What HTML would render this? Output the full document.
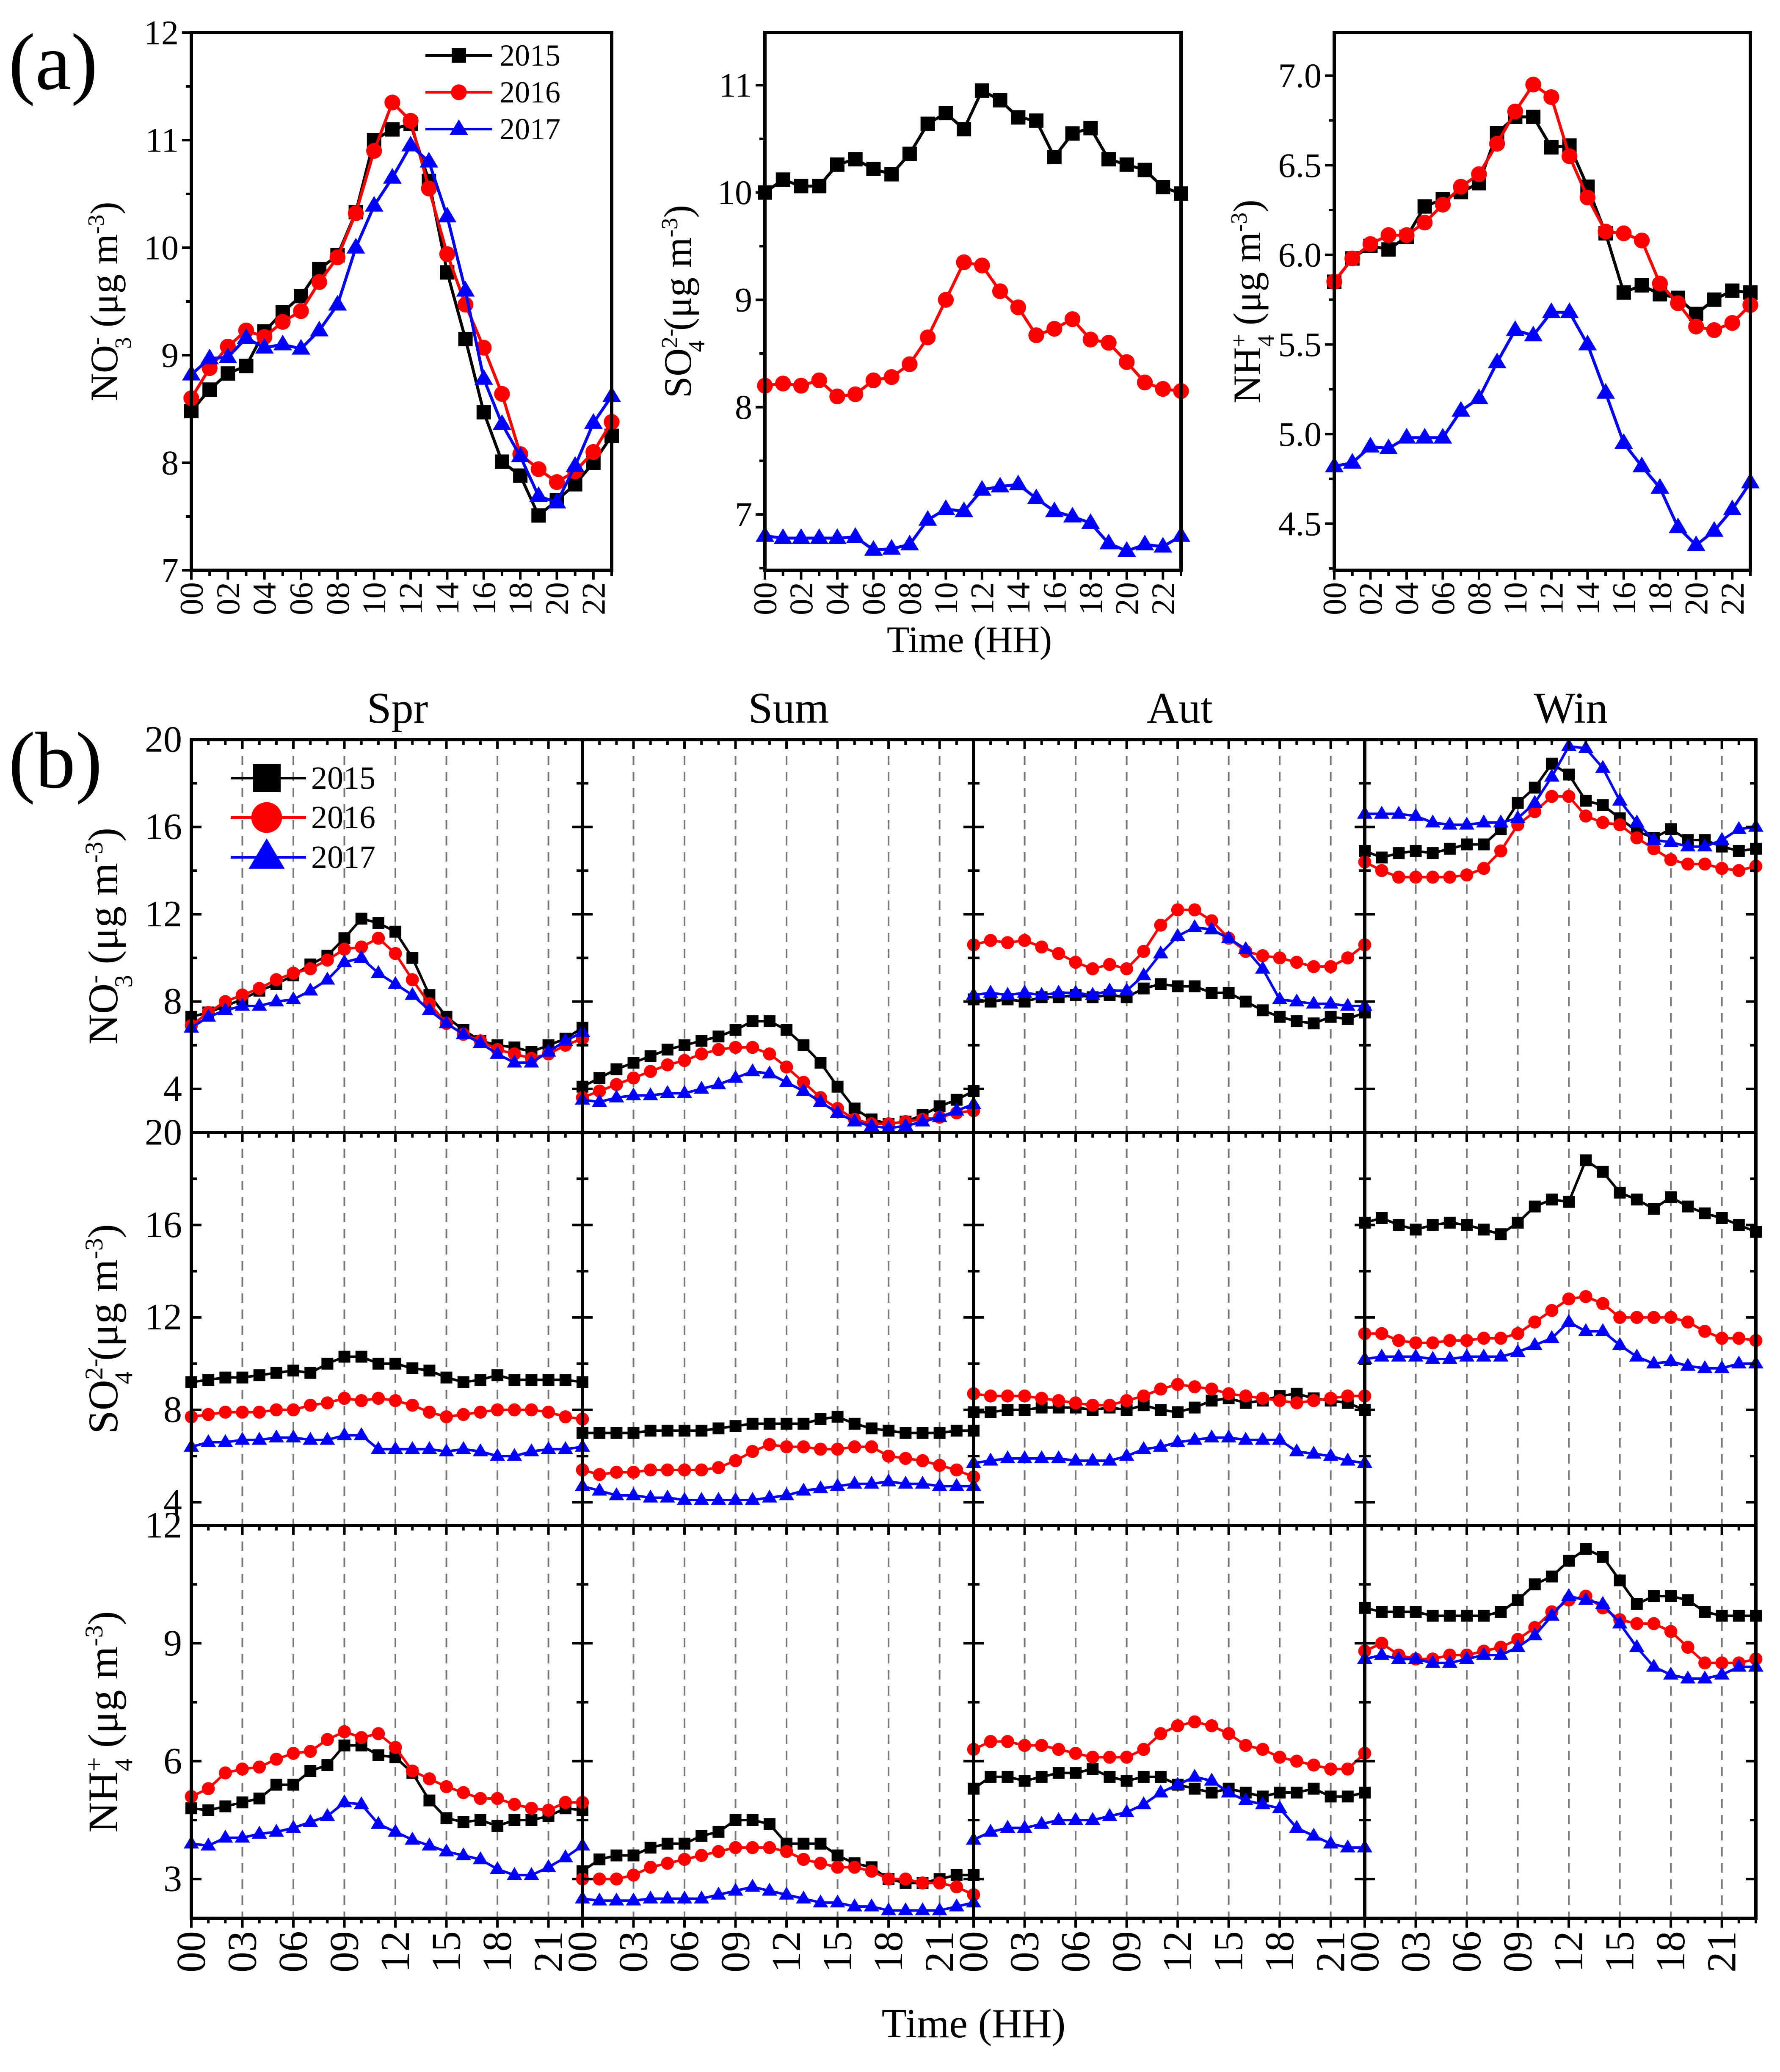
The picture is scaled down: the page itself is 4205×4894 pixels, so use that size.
<!DOCTYPE html>
<html><head><meta charset="utf-8">
<style>
html,body{margin:0;padding:0;background:#fff;}
svg{display:block;font-family:"Liberation Serif","Times New Roman",serif;}
svg text{font-family:"Liberation Serif","Times New Roman",serif;}
</style></head>
<body>
<svg id="chart" width="4205" height="4894" viewBox="0 0 4205 4894" xmlns="http://www.w3.org/2000/svg" font-family="Liberation Serif, serif">
<rect width="4205" height="4894" fill="#fff"/>
<text x="20" y="210" font-size="190">(a)</text>
<text x="20" y="1860" font-size="190">(b)</text>
<text x="2290" y="1540" font-size="88" text-anchor="middle">Time (HH)</text>
<text x="2300" y="4812" font-size="98" text-anchor="middle">Time (HH)</text>
</svg>
<script>
// ---------- data: panel (a) ----------
const hoursA = [0,1,2,3,4,5,6,7,8,9,10,11,12,13,14,15,16,17,18,19,20,21,22,23];
const years = ['2015','2016','2017'];
const no3A_2015 = [8.48,8.68,8.83,8.9,9.22,9.4,9.55,9.8,9.93,10.33,11.0,11.1,11.15,10.62,9.77,9.15,8.47,8.01,7.88,7.51,7.65,7.8,8.0,8.25];
const no3A_2016 = [8.6,8.88,9.08,9.23,9.17,9.31,9.41,9.68,9.91,10.32,10.9,11.35,11.18,10.55,9.94,9.47,9.07,8.64,8.08,7.94,7.82,7.92,8.1,8.38];
const no3A_2017 = [8.82,8.97,8.98,9.16,9.07,9.1,9.06,9.23,9.47,10.0,10.39,10.65,10.95,10.8,10.29,9.6,8.78,8.36,8.06,7.69,7.63,7.97,8.37,8.62];
const so4A_2015 = [10.0,10.12,10.06,10.06,10.26,10.31,10.22,10.17,10.36,10.64,10.74,10.59,10.95,10.86,10.7,10.67,10.33,10.55,10.6,10.31,10.26,10.21,10.05,9.99];
const so4A_2016 = [8.2,8.22,8.2,8.25,8.1,8.12,8.25,8.28,8.4,8.65,9.0,9.35,9.32,9.08,8.93,8.67,8.73,8.82,8.63,8.6,8.42,8.23,8.17,8.15];
const so4A_2017 = [6.8,6.78,6.78,6.78,6.78,6.79,6.67,6.68,6.72,6.95,7.05,7.03,7.23,7.26,7.28,7.15,7.03,6.98,6.92,6.73,6.66,6.72,6.7,6.8];
const nh4A_2015 = [5.85,5.98,6.05,6.03,6.1,6.27,6.31,6.35,6.4,6.68,6.77,6.77,6.6,6.61,6.38,6.12,5.79,5.83,5.78,5.76,5.67,5.75,5.8,5.79];
const nh4A_2016 = [5.85,5.98,6.06,6.11,6.11,6.18,6.28,6.38,6.45,6.62,6.8,6.95,6.88,6.55,6.32,6.13,6.12,6.08,5.84,5.73,5.6,5.58,5.62,5.72];
const nh4A_2017 = [4.82,4.84,4.93,4.92,4.98,4.98,4.98,5.13,5.2,5.4,5.58,5.55,5.68,5.68,5.5,5.23,4.95,4.82,4.7,4.48,4.38,4.46,4.58,4.73];
const ticksA_no3 = [7,8,9,10,11,12];
const ticksA_so4 = [7,8,9,10,11];
const ticksA_nh4 = ['4.5','5.0','5.5','6.0','6.5','7.0'];
const xTickLabelsA = ['00','02','04','06','08','10','12','14','16','18','20','22'];
// ---------- data: panel (b) ----------
const seasons = ['Spr','Sum','Aut','Win'];
const no3_Spr_2015=[7.3,7.5,7.8,8.1,8.5,8.8,9.2,9.7,10.1,10.9,11.8,11.6,11.2,10.0,8.3,7.3,6.7,6.2,6.0,5.9,5.7,6.0,6.3,6.8];
const no3_Spr_2016=[6.9,7.5,8.0,8.3,8.6,9.0,9.3,9.5,9.9,10.4,10.5,10.9,10.2,9.0,7.9,7.0,6.5,6.2,5.8,5.6,5.4,5.6,6.0,6.3];
const no3_Spr_2017=[6.8,7.3,7.6,7.8,7.8,8.0,8.1,8.5,9.0,9.8,10.0,9.3,8.8,8.3,7.6,7.0,6.5,6.1,5.6,5.2,5.2,5.7,6.2,6.6];
const no3_Sum_2015=[4.1,4.5,4.9,5.2,5.5,5.8,6.0,6.2,6.4,6.7,7.1,7.1,6.7,6.0,5.2,4.1,3.1,2.6,2.4,2.5,2.8,3.2,3.5,3.9];
const no3_Sum_2016=[3.6,3.9,4.2,4.5,4.8,5.1,5.3,5.6,5.8,5.9,5.9,5.6,5.0,4.3,3.6,3.1,2.6,2.4,2.4,2.5,2.6,2.7,2.9,3.0];
const no3_Sum_2017=[3.5,3.4,3.6,3.7,3.7,3.8,3.8,4.0,4.2,4.5,4.8,4.7,4.3,3.9,3.4,2.9,2.5,2.3,2.2,2.3,2.5,2.7,3.0,3.3];
const no3_Aut_2015=[8.1,8.0,8.1,8.0,8.2,8.2,8.3,8.2,8.3,8.2,8.6,8.8,8.7,8.7,8.4,8.4,8.0,7.6,7.3,7.1,7.0,7.3,7.2,7.5];
const no3_Aut_2016=[10.6,10.8,10.7,10.8,10.5,10.2,9.8,9.5,9.7,9.5,10.3,11.5,12.2,12.2,11.7,10.9,10.3,10.1,10.0,9.8,9.6,9.6,10.0,10.6];
const no3_Aut_2017=[8.3,8.4,8.3,8.4,8.3,8.4,8.4,8.3,8.5,8.5,9.2,10.2,11.0,11.4,11.3,10.9,10.4,9.5,8.1,8.0,7.9,7.9,7.8,7.8];
const no3_Win_2015=[14.9,14.6,14.8,14.9,14.8,15.0,15.2,15.2,15.9,17.1,17.8,18.9,18.4,17.2,17.0,16.4,15.8,15.5,15.9,15.4,15.4,15.1,14.9,15.0];
const no3_Win_2016=[14.4,14.0,13.7,13.7,13.7,13.7,13.8,14.1,14.9,16.1,16.7,17.4,17.4,16.5,16.2,16.1,15.5,15.0,14.5,14.3,14.3,14.1,14.0,14.2];
const no3_Win_2017=[16.6,16.6,16.6,16.5,16.2,16.1,16.1,16.2,16.2,16.4,17.1,18.3,19.7,19.6,18.7,17.2,16.2,15.4,15.3,15.1,15.1,15.4,15.9,16.0];
const so4_Spr_2015=[9.2,9.3,9.4,9.4,9.5,9.6,9.7,9.6,10.0,10.3,10.3,10.0,10.0,9.8,9.7,9.4,9.2,9.3,9.5,9.3,9.3,9.3,9.3,9.2];
const so4_Spr_2016=[7.7,7.8,7.9,7.9,7.9,8.0,8.0,8.2,8.3,8.5,8.4,8.5,8.4,8.2,7.9,7.7,7.8,7.9,8.0,8.0,8.0,7.9,7.7,7.6];
const so4_Spr_2017=[6.4,6.6,6.6,6.7,6.7,6.8,6.8,6.7,6.7,6.9,6.9,6.3,6.3,6.3,6.3,6.2,6.3,6.2,6.0,6.0,6.2,6.3,6.3,6.4];
const so4_Sum_2015=[7.0,7.0,7.0,7.0,7.1,7.1,7.1,7.1,7.2,7.3,7.4,7.4,7.4,7.4,7.6,7.7,7.4,7.2,7.1,7.0,7.0,7.0,7.1,7.1];
const so4_Sum_2016=[5.4,5.2,5.3,5.3,5.4,5.4,5.4,5.4,5.5,5.8,6.2,6.5,6.4,6.4,6.3,6.3,6.4,6.4,6.0,5.9,5.8,5.6,5.4,5.1];
const so4_Sum_2017=[4.7,4.5,4.3,4.3,4.2,4.2,4.1,4.1,4.1,4.1,4.1,4.2,4.3,4.5,4.6,4.7,4.8,4.8,4.9,4.8,4.8,4.7,4.7,4.7];
const so4_Aut_2015=[7.9,7.9,8.0,8.0,8.1,8.1,8.1,8.0,8.1,8.0,8.2,8.0,7.9,8.1,8.4,8.5,8.3,8.4,8.6,8.7,8.5,8.4,8.3,8.0];
const so4_Aut_2016=[8.7,8.6,8.6,8.6,8.5,8.4,8.3,8.2,8.2,8.4,8.6,8.9,9.1,9.0,8.9,8.7,8.6,8.5,8.4,8.3,8.4,8.5,8.6,8.6];
const so4_Aut_2017=[5.7,5.8,5.9,5.9,5.9,5.9,5.8,5.8,5.8,6.0,6.3,6.4,6.6,6.7,6.8,6.8,6.7,6.7,6.7,6.2,6.1,6.0,5.8,5.7];
const so4_Win_2015=[16.1,16.3,16.0,15.8,16.0,16.1,16.0,15.8,15.6,16.1,16.8,17.1,17.0,18.8,18.3,17.4,17.1,16.7,17.2,16.8,16.5,16.3,16.0,15.7];
const so4_Win_2016=[11.3,11.3,11.0,10.9,10.9,11.0,11.0,11.1,11.1,11.3,11.8,12.3,12.8,12.9,12.6,12.0,12.0,12.0,12.0,11.8,11.4,11.1,11.1,11.0];
const so4_Win_2017=[10.2,10.3,10.3,10.3,10.2,10.2,10.3,10.3,10.3,10.5,10.8,11.1,11.8,11.4,11.4,10.8,10.3,10.0,10.1,9.9,9.8,9.8,10.0,10.0];
const nh4_Spr_2015=[4.8,4.75,4.85,4.95,5.05,5.4,5.4,5.75,5.9,6.4,6.4,6.15,6.1,5.7,5.0,4.55,4.45,4.5,4.35,4.5,4.5,4.6,4.8,4.75];
const nh4_Spr_2016=[5.1,5.3,5.7,5.8,5.85,6.05,6.2,6.25,6.55,6.75,6.6,6.7,6.35,5.75,5.55,5.35,5.2,5.05,5.05,4.9,4.8,4.75,4.95,4.95];
const nh4_Spr_2017=[3.9,3.85,4.05,4.05,4.15,4.2,4.3,4.45,4.6,4.95,4.9,4.4,4.2,4.0,3.85,3.7,3.6,3.5,3.25,3.1,3.1,3.3,3.55,3.85];
const nh4_Sum_2015=[3.2,3.5,3.6,3.6,3.8,3.9,3.9,4.1,4.2,4.5,4.5,4.4,3.9,3.9,3.9,3.6,3.4,3.3,3.0,2.9,2.9,3.0,3.1,3.1];
const nh4_Sum_2016=[3.0,3.0,3.0,3.1,3.3,3.4,3.5,3.6,3.7,3.8,3.8,3.8,3.7,3.5,3.4,3.3,3.3,3.2,3.0,3.0,2.9,2.9,2.8,2.6];
const nh4_Sum_2017=[2.5,2.45,2.45,2.45,2.5,2.5,2.5,2.5,2.6,2.7,2.8,2.7,2.6,2.5,2.4,2.4,2.3,2.3,2.2,2.2,2.2,2.2,2.3,2.4];
const nh4_Aut_2015=[5.3,5.6,5.6,5.5,5.6,5.7,5.7,5.8,5.6,5.5,5.6,5.6,5.4,5.3,5.2,5.3,5.2,5.1,5.2,5.2,5.3,5.1,5.1,5.2];
const nh4_Aut_2016=[6.3,6.5,6.5,6.4,6.4,6.3,6.2,6.1,6.1,6.1,6.3,6.7,6.9,7.0,6.9,6.7,6.4,6.3,6.1,6.0,5.9,5.8,5.8,6.2];
const nh4_Aut_2017=[4.0,4.2,4.3,4.3,4.4,4.5,4.5,4.5,4.6,4.7,4.9,5.2,5.4,5.6,5.5,5.2,5.0,4.9,4.8,4.3,4.1,3.9,3.8,3.8];
const nh4_Win_2015=[9.9,9.8,9.8,9.8,9.7,9.7,9.7,9.7,9.8,10.1,10.5,10.7,11.1,11.4,11.2,10.6,10.0,10.2,10.2,10.1,9.8,9.7,9.7,9.7];
const nh4_Win_2016=[8.8,9.0,8.7,8.6,8.6,8.7,8.7,8.8,8.9,9.1,9.4,9.8,10.1,10.2,9.9,9.6,9.5,9.5,9.3,8.9,8.5,8.5,8.5,8.6];
const nh4_Win_2017=[8.6,8.7,8.6,8.6,8.5,8.5,8.6,8.7,8.7,8.9,9.2,9.7,10.2,10.1,10.0,9.5,8.9,8.4,8.2,8.1,8.1,8.2,8.4,8.4];
const ticksB_no3 = [4,8,12,16,20];
const ticksB_so4 = [4,8,12,16,20];
const ticksB_nh4 = [3,6,9,12];
const xTickLabelsB = ['00','03','06','09','12','15','18','21'];

// ---------- drawing ----------
const NS='http://www.w3.org/2000/svg';
const svg=document.getElementById('chart');
const COLORS=['#000000','#ff0000','#0000ff'];
const SHAPES=['square','circle','triangle'];
function mk(tag,attrs,parent){const e=document.createElementNS(NS,tag);for(const k in attrs)e.setAttribute(k,attrs[k]);(parent||svg).appendChild(e);return e;}
function marker(g,shape,cx,cy,s,color){
  let e;
  if(shape==='square'){e=mk('rect',{x:cx-s/2,y:cy-s/2,width:s,height:s,fill:color},g);}
  else if(shape==='circle'){e=mk('circle',{cx:cx,cy:cy,r:s*0.55,fill:color},g);}
  else {const r=s*0.68;e=mk('polygon',{points:`${cx},${cy-r} ${cx+r*0.95},${cy+r*0.6} ${cx-r*0.95},${cy+r*0.6}`,fill:color},g);}
  
  
}
function makeScale(d0,d1,r0,r1){return v=>r0+(v-d0)*(r1-r0)/(d1-d0);}

function drawSeries(g,xs,ys,vals,color,shape,ms,lw,name){
  const sg=mk('g',{},g);
  
  
  const pts=vals.map((v,i)=>xs(i)+','+ys(v)).join(' ');
  const ln=mk('polyline',{points:pts,fill:'none',stroke:color,'stroke-width':lw,'stroke-linejoin':'round'},sg);
  
  
  vals.forEach((v,i)=>marker(sg,shape,xs(i),ys(v),ms,color));
}

function yTitle(g,x,y,ion,fs){
  const t=mk('text',{x:0,y:0,'font-size':fs,'text-anchor':'middle',transform:`translate(${x},${y}) rotate(-90)`},g);
  
  
  const sm=fs*0.6;
  let html;
  if(ion==='no3') html=`NO<tspan font-size="${sm}" dy="${-fs*0.35}">-</tspan><tspan font-size="${sm}" dx="${-sm*0.5}" dy="${fs*0.7}">3</tspan>`;
  else if(ion==='so4') html=`SO<tspan font-size="${sm}" dy="${-fs*0.35}">2-</tspan><tspan font-size="${sm}" dx="${-sm*1.0}" dy="${fs*0.7}">4</tspan>`;
  else html=`NH<tspan font-size="${sm}" dy="${-fs*0.35}">+</tspan><tspan font-size="${sm}" dx="${-sm*0.55}" dy="${fs*0.7}">4</tspan>`;
  html+=`<tspan dy="${-fs*0.35}"> (μg m</tspan><tspan font-size="${sm}" dy="${-fs*0.35}">-3</tspan><tspan dy="${fs*0.35}">)</tspan>`;
  t.innerHTML=html;
}

// Panel (a)
function panelA(name,x0,x1,y0,y1,ymin,ymax,ticks,minorStep,series,ion){
  const g=mk('g',{});
  
  
  const xs=makeScale(0,23,x0,x1), ys=makeScale(ymin,ymax,y1,y0);
  series.forEach((s,k)=>drawSeries(g,xs,ys,s,COLORS[k],SHAPES[k],34,7,'series-'+years[k]));
  const fr=mk('rect',{x:x0,y:y0,width:x1-x0,height:y1-y0,fill:'none',stroke:'#000','stroke-width':8},g);
  
  
  for(let v=Math.ceil(ymin/minorStep)*minorStep; v<=ymax+1e-9; v+=minorStep){
    const major=ticks.some(t=>Math.abs(parseFloat(t)-v)<1e-6);
    mk('line',{x1:x0,x2:x0-(major?22:13),y1:ys(v),y2:ys(v),stroke:'#000','stroke-width':6},g);
  }
  ticks.forEach(t=>{
    const tx=mk('text',{x:x0-30,y:ys(parseFloat(t)),'font-size':82,'text-anchor':'end','dominant-baseline':'central'},g);
    tx.textContent=t;
    
    
  });
  hoursA.forEach(h=>{mk('line',{x1:xs(h),x2:xs(h),y1:y1,y2:y1+(h%2===0?22:13),stroke:'#000','stroke-width':6},g);});
  xTickLabelsA.forEach(l=>{
    const h=parseInt(l,10);
    const tx=mk('text',{x:0,y:0,'font-size':78,'text-anchor':'end','dominant-baseline':'central',transform:`translate(${xs(h)},${y1+28}) rotate(-90)`},g);
    tx.textContent=l;
    
    
  });
  yTitle(g,x0-175,(y0+y1)/2,ion,92);
}
panelA('no3-annual-panel',452,1445,77,1347,7,12,ticksA_no3,0.5,[no3A_2015,no3A_2016,no3A_2017],'no3');
panelA('so4-annual-panel',1807,2790,77,1347,6.48,11.49,ticksA_so4,0.5,[so4A_2015,so4A_2016,so4A_2017],'so4');
panelA('nh4-annual-panel',3152,4135,77,1347,4.24,7.24,ticksA_nh4,0.25,[nh4A_2015,nh4A_2016,nh4A_2017],'nh4');

// legend (a)
(function(){
  const g=mk('g',{});
  
  
  [131,218,305].forEach((y,k)=>{
    const e=mk('g',{},g);
    
    
    mk('line',{x1:1005,x2:1163,y1:y,y2:y,stroke:COLORS[k],'stroke-width':6},e);
    marker(e,SHAPES[k],1084,y,34,COLORS[k]);
    const t=mk('text',{x:1180,y:y,'font-size':72,'dominant-baseline':'central'},e);
    t.textContent=years[k];
  });
})();

// Panel (b)
const colX=[452,1376,2300,3224,4148];
const rowY=[1747,2675,3603,4531];
const rowDefs=[
  {ion:'no3',ymin:2,ymax:20,ticks:ticksB_no3,minor:2},
  {ion:'so4',ymin:3,ymax:20,ticks:ticksB_so4,minor:2},
  {ion:'nh4',ymin:2,ymax:12,ticks:ticksB_nh4,minor:1.5}
];
const dataB={
  no3:{Spr:[no3_Spr_2015,no3_Spr_2016,no3_Spr_2017],Sum:[no3_Sum_2015,no3_Sum_2016,no3_Sum_2017],Aut:[no3_Aut_2015,no3_Aut_2016,no3_Aut_2017],Win:[no3_Win_2015,no3_Win_2016,no3_Win_2017]},
  so4:{Spr:[so4_Spr_2015,so4_Spr_2016,so4_Spr_2017],Sum:[so4_Sum_2015,so4_Sum_2016,so4_Sum_2017],Aut:[so4_Aut_2015,so4_Aut_2016,so4_Aut_2017],Win:[so4_Win_2015,so4_Win_2016,so4_Win_2017]},
  nh4:{Spr:[nh4_Spr_2015,nh4_Spr_2016,nh4_Spr_2017],Sum:[nh4_Sum_2015,nh4_Sum_2016,nh4_Sum_2017],Aut:[nh4_Aut_2015,nh4_Aut_2016,nh4_Aut_2017],Win:[nh4_Win_2015,nh4_Win_2016,nh4_Win_2017]}
};
rowDefs.forEach((rd,r)=>{
  const y0=rowY[r],y1=rowY[r+1];
  const ys=makeScale(rd.ymin,rd.ymax,y1,y0);
  seasons.forEach((s,c)=>{
    const x0=colX[c],x1=colX[c+1];
    const xs=makeScale(0,23,x0,x1);
    const g=mk('g',{});
    
    
    [3,6,9,12,15,18,21].forEach(h=>{
      const gl=mk('line',{x1:xs(h),x2:xs(h),y1:y0,y2:y1,stroke:'#777','stroke-width':4,'stroke-dasharray':'22 16'},g);
      
      
    });
    dataB[rd.ion][s].forEach((vals,k)=>drawSeries(g,xs,ys,vals,COLORS[k],SHAPES[k],28,6,'series-'+years[k]));
    for(let v=rd.ymin; v<=rd.ymax+1e-9; v+=0.5){
      const isMajor=rd.ticks.some(t=>Math.abs(t-v)<1e-6);
      const isMinor=Math.abs((v/rd.minor)-Math.round(v/rd.minor))<1e-6;
      if(!isMajor&&!isMinor) continue;
      const L=isMajor?24:14;
      mk('line',{x1:x0,x2:x0+L,y1:ys(v),y2:ys(v),stroke:'#000','stroke-width':6},g);
      mk('line',{x1:x1,x2:x1-L,y1:ys(v),y2:ys(v),stroke:'#000','stroke-width':6},g);
    }
    for(let h=0;h<=23;h++){
      const L=h%3===0?22:12;
      mk('line',{x1:xs(h),x2:xs(h),y1:y0,y2:y0+L,stroke:'#000','stroke-width':6},g);
      if(r===2) mk('line',{x1:xs(h),x2:xs(h),y1:y1,y2:y1+L,stroke:'#000','stroke-width':6},g);
    }
    const fr=mk('rect',{x:x0,y:y0,width:x1-x0,height:y1-y0,fill:'none',stroke:'#000','stroke-width':8},g);
    
    
    if(c===0){
      rd.ticks.forEach(t=>{
        const tx=mk('text',{x:x0-22,y:ys(t),'font-size':88,'text-anchor':'end','dominant-baseline':'central'},g);
        tx.textContent=t;
        
        
      });
      yTitle(g,x0-175,(y0+y1)/2,rd.ion,100);
    }
    if(r===0){
      const tt=mk('text',{x:(x0+x1)/2+25,y:y0-40,'font-size':104,'text-anchor':'middle'},g);
      tt.textContent=s;
      
      
    }
    if(r===2){
      xTickLabelsB.forEach(l=>{
        const h=parseInt(l,10);
        const tx=mk('text',{x:0,y:0,'font-size':98,'text-anchor':'end','dominant-baseline':'central',transform:`translate(${xs(h)},${y1+30}) rotate(-90)`},g);
        tx.textContent=l;
        
        
      });
    }
  });
});

// legend (b)
(function(){
  const g=mk('g',{});
  
  
  [1838,1931,2025].forEach((y,k)=>{
    const e=mk('g',{},g);
    
    
    mk('line',{x1:545,x2:723,y1:y,y2:y,stroke:COLORS[k],'stroke-width':6},e);
    marker(e,SHAPES[k],630,y,66,COLORS[k]);
    const t=mk('text',{x:735,y:y,'font-size':76,'dominant-baseline':'central'},e);
    t.textContent=years[k];
  });
})();
</script>
</body></html>
